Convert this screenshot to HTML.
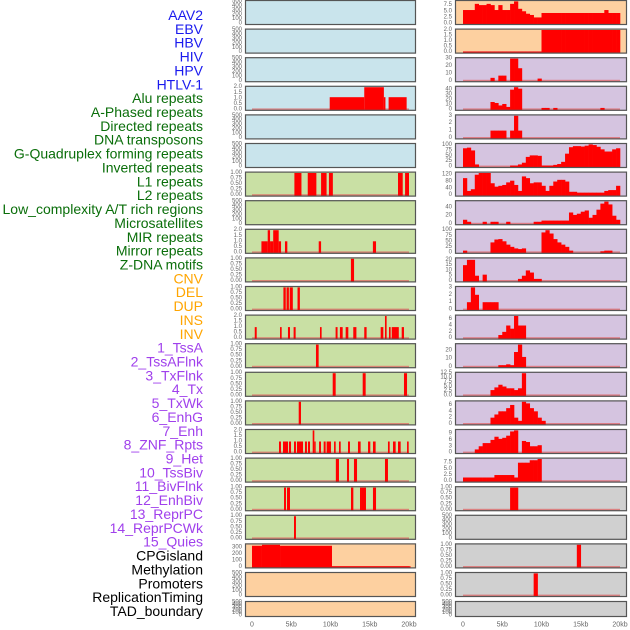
<!DOCTYPE html>
<html><head><meta charset="utf-8"><style>
html,body{margin:0;padding:0;background:#fff;}
svg{display:block;font-family:"Liberation Sans","DejaVu Sans",sans-serif;}
</style></head><body>
<svg id="chart" width="630" height="630" viewBox="0 0 630 630"></svg>
<script>
const labels = ["AAV2","EBV","HBV","HIV","HPV","HTLV-1","Alu repeats","A-Phased repeats","Directed repeats","DNA transposons","G-Quadruplex forming repeats","Inverted repeats","L1 repeats","L2 repeats","Low_complexity A/T rich regions","Microsatellites","MIR repeats","Mirror repeats","Z-DNA motifs","CNV","DEL","DUP","INS","INV","1_TssA","2_TssAFlnk","3_TxFlnk","4_Tx","5_TxWk","6_EnhG","7_Enh","8_ZNF_Rpts","9_Het","10_TssBiv","11_BivFlnk","12_EnhBiv","13_ReprPC","14_ReprPCWk","15_Quies","CPGisland","Methylation","Promoters","ReplicationTiming","TAD_boundary"];
const labelGroups = [6,13,5,15,5];
const groupColors = ["#1a1aee","#0a6e0a","#ffa500","#a040ec","#000000"];
const xTicks = [0,5,10,15,20];
const xTickLabels = ["0","5kb","10kb","15kb","20kb"];
const T_EMPTY = ["0","100","200","300","400","500"];
const T_ONE = ["0.00","0.25","0.50","0.75","1.00"];
const T_TWO = ["0.0","0.5","1.0","1.5","2.0"];
// column 1: segments [startKb, endKb, value]
const c1Bg = ["blue","blue","blue","blue","blue","blue","green","green","green","green","green","green","green","green","green","green","green","green","green","orange","orange","orange"];
const c1Ticks = [T_EMPTY,T_EMPTY,T_EMPTY,T_TWO,T_EMPTY,T_EMPTY,T_ONE,T_EMPTY,T_TWO,T_ONE,T_ONE,T_TWO,T_ONE,T_ONE,T_ONE,T_TWO,T_ONE,T_ONE,T_ONE,["0","100","200","300"],T_EMPTY,T_EMPTY];
const c1Max = [500,500,500,2,500,500,1,500,2,1,1,2,1,1,1,2,1,1,1,345,500,500];
const c1Seg = [
 [],[],[],
 [[9.9,14.3,1.1],[14.3,16.8,2],[16.8,17.0,1.1],[17.4,19.7,1.1]],
 [],[],
 [[5.4,6.3,1],[7.1,8.2,1],[8.8,9.5,1],[9.8,10.3,1],[18.6,19.2,1],[19.5,20,1]],
 [],
 [[1.2,2.0,1],[2.0,2.3,2],[2.3,2.7,1],[2.7,3.4,2],[3.4,3.7,1],[4.2,4.5,1],[8.5,8.8,1],[15.4,15.8,1]],
 [[12.6,13.0,1]],
 [[4.0,4.3,1],[4.4,4.7,1],[4.8,5.2,1],[5.8,6.1,1]],
 [[0.35,0.6,1],[3.57,3.78,1],[4.58,4.84,1],[5.3,5.56,1],[8.66,8.87,1],[10.65,10.9,1],[11.2,11.55,1],[11.93,12.27,1],[12.9,13.3,1],[14.3,14.6,1],[16.39,16.73,1],[16.94,17.15,2],[17.45,17.66,1],[17.8,18.7,1],[19.07,19.36,1]],
 [[8.15,8.49,1]],
 [[10.28,10.66,1],[14.1,14.48,1],[19.36,19.75,1]],
 [[5.95,6.24,1]],
 [[3.44,3.69,1],[3.95,4.59,1],[4.71,4.97,1],[5.35,5.6,1],[5.73,6.5,1],[6.75,7.0,1],[7.13,7.39,1],[7.73,7.94,2],[7.94,8.11,1],[8.54,8.79,1],[9.13,9.38,1],[9.51,10.06,1],[10.45,10.66,1],[11.08,11.3,1],[12.23,12.48,1],[13.5,13.84,1],[14.78,15.07,1],[15.41,15.75,1],[17.32,17.54,1],[17.96,18.3,1],[18.6,18.94,1],[19.75,19.96,1]],
 [[10.68,11.08,1],[12.1,12.36,1],[12.99,13.38,1],[16.94,17.32,1]],
 [[4.08,4.33,1],[4.46,4.84,1],[12.61,12.91,1],[13.76,14.01,1],[14.01,14.52,1],[15.41,15.8,1]],
 [[5.35,5.6,1]],
 [[0,1.27,330],[1.27,3.57,345],[3.57,10.19,330],[10.19,20.2,12]],
 [],[]
];
// column 2: 40 bins of 0.5kb
const c2Bg = ["orange","orange","purple","purple","purple","purple","purple","purple","purple","purple","purple","purple","purple","purple","purple","purple","purple","gray","gray","gray","gray","gray"];
const c2Ticks = [["0.0","2.5","5.0","7.5"],T_TWO,["0","10","20","30"],["0","10","20","30","40"],["0","1","2","3"],["0","25","50","75","100"],["0","40","80","120"],["0","20","40"],["0","25","50","75","100"],["0","5","10","15","20"],["0","1","2","3"],["0","2","4","6"],["0","10","20"],["0.0","2.5","5.0","7.5","10.0","12.5"],["0","2","4","6"],["0","3","6","9"],["0.0","2.5","5.0","7.5"],T_ONE,T_EMPTY,T_ONE,T_ONE,T_EMPTY];
const c2TickVals = [[0,2.5,5,7.5],[0,.5,1,1.5,2],[0,10,20,30],[0,10,20,30,40],[0,1,2,3],[0,25,50,75,100],[0,40,80,120],[0,20,40],[0,25,50,75,100],[0,5,10,15,20],[0,1,2,3],[0,2,4,6],[0,10,20],[0,2.5,5,7.5,10,12.5],[0,2,4,6],[0,3,6,9],[0,2.5,5,7.5],[0,.25,.5,.75,1],[0,100,200,300,400,500],[0,.25,.5,.75,1],[0,.25,.5,.75,1],[0,100,200,300,400,500]];
const c2Max = [9,2,30,45,3,103,130,55,100,21,3,7,27,12.5,7,10.5,9,1,500,1,1,500];
const c2Bins = [
 [5.5,5.5,5.5,8,7.5,7.5,8,7.5,5.5,7.5,5.5,5.5,8,9,6,5,4,3.5,2.5,2.5,4.3,4.3,4.3,4.3,4.3,4.3,4.3,4.3,4.3,4.3,4.3,4.3,4.3,4.3,4.3,4.3,5.5,4.3,4.3,4.3],
 [0.05,0.05,0.05,0.05,0.05,0.05,0.05,0.05,0.05,0.05,0.05,0.05,0.05,0.05,0.05,0.05,0.05,0.05,0.05,0.05,2,2,2,2,2,2,2,2,2,2,2,2,2,2,2,2,2,2,2,2],
 [0,0,0,0,0,0,0,4,0,7,7,0,30,30,17,0,0,0,0,3,0,0,0,0,0,0,0,0,0,0,0,0,0,0,0,0,0,0,0,0],
 [0,0,0,0,0,0,0,15,13,8,11,5,40,45,42,0,0,0,0,0,3,3,0,3,0,0,0,0,0,0,0,0,0,0,0,3,0,0,0,0],
 [0,0,0,0,0,0,0,1,1,1,1,0,1,3,1,0,0,0,0,0,0,0,0,0,0,0,0,0,0,0,0,0,0,0,0,0,0,0,0,0],
 [85,88,75,10,0,0,0,0,0,0,0,0,5,5,10,18,45,52,52,50,5,5,5,8,12,22,60,90,95,95,93,97,103,100,92,80,70,70,80,85],
 [100,25,35,120,130,130,130,70,50,55,60,75,85,60,25,110,100,70,75,75,55,25,55,80,90,90,80,20,20,15,15,15,15,15,15,15,25,30,30,55],
 [10,5,0,0,0,5,0,5,5,0,0,5,0,0,0,0,0,0,5,5,8,8,8,8,8,8,8,28,22,25,30,33,15,22,35,50,55,48,20,10],
 [8,0,0,0,0,0,0,45,58,60,50,35,25,18,15,18,0,0,0,0,90,100,85,60,45,35,25,8,0,0,0,0,0,0,0,5,8,8,0,0],
 [15,20,20,5,0,6,0,0,0,0,0,0,0,0,2,5,10,8,2,2,0,0,0,0,0,0,0,0,0,0,0,0,0,0,0,0,0,0,0,0],
 [0,1,3,2,0,1,1,1,1,0,0,0,0,0,0,0,0,0,0,0,0,0,0,0,0,0,0,0,0,0,0,0,0,0,0,0,0,0,0,0],
 [0,0,0,0,0,0,0,0,0,1,2,4,3,7,4,4,0,0,0,0,0,0,0,0,0,0,0,0,0,0,0,0,0,0,0,0,0,0,0,0],
 [0,0,0,0,0,0,0,0,0,2,2,3,2,18,27,12,0,0,0,0,0,0,0,0,0,0,0,0,0,0,0,0,0,0,0,0,0,0,0,0],
 [0,0,0,0,0,0,0,3,4.5,6,5,4,4,3,4,12.5,0,0,0,0,0,0,0,0,0,0,0,0,0,0,0,0,0,0,0,0,0,0,0,0],
 [0,0,0,0,0,0,0,2,3,4,4,5,6,2,1,7,6.5,5,4,2,1,0,0,0,0,0,0,0,0,0,0,0,0,0,0,0,0,0,0,0],
 [0,0,0,1.5,3,4.5,4.5,6,7.5,6.5,7,8,10,10.5,0,5.5,5,3,3,3.5,0,0,0,0,0,0,0,0,0,0,0,0,0,0,0,0,0,0,0,0],
 [1.5,1.5,1.5,1.5,1.5,1.5,1.5,1.5,2.5,2.5,2.5,2.5,2.5,1.5,7.5,7.5,7.5,8.5,8.5,9,0,0,0,0,0,0,0,0,0,0,0,0,0,0,0,0,0,0,0,0],
 [0,0,0,0,0,0,0,0,0,0,0,0,1,1,0,0,0,0,0,0,0,0,0,0,0,0,0,0,0,0,0,0,0,0,0,0,0,0,0,0],
 [],
 [0,0,0,0,0,0,0,0,0,0,0,0,0,0,0,0,0,0,0,0,0,0,0,0,0,0,0,0,0,1,0,0,0,0,0,0,0,0,0,0],
 [0,0,0,0,0,0,0,0,0,0,0,0,0,0,0,0,0,0,1,0,0,0,0,0,0,0,0,0,0,0,0,0,0,0,0,0,0,0,0,0],
 []
];

const NS = "http://www.w3.org/2000/svg";
const svg = document.getElementById("chart");
const BG = {blue:"#c9e4ec",green:"#c9e0a4",orange:"#fdd0a0",purple:"#d5c4e0",gray:"#d0d0d0"};
const COLS = [{left:245,right:416,x0:252},{left:455,right:627,x0:463}];
const KB = 7.85;
function mk(tag, attrs){const e=document.createElementNS(NS,tag);for(const k in attrs)e.setAttribute(k,attrs[k]);return e;}
function rowTop(i){return i===21?601:i*28.6;}
function rowH(i){return i===21?16:25;}
function xs(col,kb){return COLS[col].x0+kb*KB;}
function ys(i,v,M){const t=rowTop(i),h=rowH(i);return t+h-1.4-(v/M)*(h-2.8);}

// labels
let li=0;
labelGroups.forEach((n,g)=>{
  for(let k=0;k<n;k++){
    const t=mk("text",{x:203,y:15+li*13.86,"text-anchor":"end","dominant-baseline":"central","font-size":"14",fill:groupColors[g]});
    t.textContent=labels[li];
    
    
    svg.appendChild(t);li++;
  }
});

function tickVals(ticks){return ticks.map(s=>parseFloat(s));}

function drawPanel(col,i,bg,ticks,M,drawData,hasData){
  const c=COLS[col],t=rowTop(i),h=rowH(i);
  const g=mk("g",{});
  
  
  svg.appendChild(g);
  g.appendChild(mk("rect",{x:c.left,y:t,width:c.right-c.left,height:h,fill:BG[bg]}));
  const tv=tickVals(ticks);
  ticks.forEach((s,k)=>{
    const tx=mk("text",{x:c.left-3,y:ys(i,tv[k],M),"text-anchor":"end","dominant-baseline":"central","font-size":"6",fill:"#666"});
    tx.textContent=s;
    
    
    g.appendChild(tx);
  });
  if(hasData){
    const bl=mk("rect",{x:xs(col,0),y:ys(i,0,M)-1,width:20*KB,height:2,fill:"#e06060",opacity:"0.7"});
    
    
    g.appendChild(bl);
  }
  drawData(g);
  g.appendChild(mk("rect",{x:c.left+0.5,y:t+0.5,width:c.right-c.left-1,height:h-1,fill:"none",stroke:"#555","stroke-width":"1.2"}));
}

for(let i=0;i<22;i++){
  drawPanel(0,i,c1Bg[i],c1Ticks[i],c1Max[i],(g)=>{
    c1Seg[i].forEach(s=>{
      const y=ys(i,s[2],c1Max[i]),y0=ys(i,0,c1Max[i]);
      const r=mk("rect",{x:xs(0,s[0]),y:y,width:Math.max(1,(s[1]-s[0])*KB),height:y0-y+1,fill:"#ff0000"});
      
      
      g.appendChild(r);
    });
  },c1Seg[i].length>0);
  drawPanel(1,i,c2Bg[i],c2Ticks[i],c2Max[i],(g)=>{
    c2Bins[i].forEach((v,k)=>{
      if(v<=0)return;
      const y=ys(i,v,c2Max[i]),y0=ys(i,0,c2Max[i]);
      const r=mk("rect",{x:xs(1,k*0.5),y:y,width:0.5*KB+0.3,height:y0-y+1,fill:"#ff0000"});
      
      
      g.appendChild(r);
    });
  },c2Bins[i].length>0);
}
// x axis
[0,1].forEach(col=>{
  xTicks.forEach((kb,k)=>{
    const t=mk("text",{x:xs(col,kb),y:625,"text-anchor":"middle","dominant-baseline":"central","font-size":"7",fill:"#666"});
    t.textContent=xTickLabels[k];
    
    
    svg.appendChild(t);
  });
});
</script>
</body></html>
